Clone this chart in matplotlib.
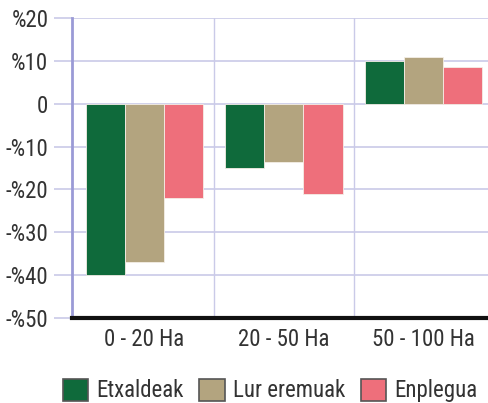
import numpy as np
import matplotlib.pyplot as plt
from matplotlib.patches import Patch
from matplotlib import font_manager

# datuak
categories = ['0 - 20 Ha', '20 - 50 Ha', '50 - 100 Ha']
series = ['Etxaldeak', 'Lur eremuak', 'Enplegua']
etxaldeak = [-40, -15, 10]
lur_eremuak = [-37, -13.5, 11]
enplegua = [-22, -21, 8.6]
yticks = [20, 10, 0, -10, -20, -30, -40, -50]
ytick_labels = ['%20', '%10', '0', '-%10', '-%20', '-%30', '-%40', '-%50']

colors = ['#0f6a3b', '#b3a47f', '#ee6f7b']

names = sorted({f.name for f in font_manager.fontManager.ttflist})
prefer = ['Liberation Sans Narrow', 'Roboto Condensed', 'Noto Sans Condensed',
          'Open Sans Condensed', 'DejaVu Sans Condensed']
fam = next((n for n in prefer if n in names), None)
if fam is None:
    fam = next((n for n in names if ('Condensed' in n or 'Narrow' in n) and 'Sans' in n), 'Liberation Sans')
plt.rcParams['font.family'] = [fam, 'DejaVu Sans']
fs = 16.5

fig = plt.figure(figsize=(4.89, 4.03), dpi=100)
ax = fig.add_axes([0.147, 0.211, 0.853, 0.744])

x = np.arange(len(categories))
w = 0.28
for i, (vals, c) in enumerate(zip([etxaldeak, lur_eremuak, enplegua], colors)):
    ax.bar(x + (i - 1) * w, vals, w, color=c, edgecolor='#f4eee6', linewidth=0.6, zorder=3)

ax.set_ylim(-50, 20)
ax.set_xlim(-0.52, 2.47)
ax.set_yticks(yticks)
ax.set_yticklabels(ytick_labels, fontsize=fs, color='#333333')
ax.set_xticks(x)
ax.set_xticklabels(categories, fontsize=fs, color='#333333')

grid_c = '#cacae8'
for v in yticks[:-1]:
    ax.axhline(v, color=grid_c, lw=1.2, zorder=1)
for v in [0.5, 1.5]:
    ax.axvline(v, color=grid_c, lw=1.0, zorder=1)

ax.tick_params(axis='y', length=13, width=1.2, color=grid_c, pad=4)
ax.tick_params(axis='x', length=0, pad=7)
for s in ['top', 'right']:
    ax.spines[s].set_visible(False)
ax.spines['left'].set_color('#9a9ad6')
ax.spines['left'].set_linewidth(2)
ax.spines['bottom'].set_color('#111111')
ax.spines['bottom'].set_linewidth(3)
ax.spines['bottom'].set_zorder(4)

handles = [Patch(facecolor=c, edgecolor='#555555', linewidth=1.2) for c in colors]
fig.legend(handles, series, loc='center', bbox_to_anchor=(0.552, 0.031), ncol=3,
           frameon=False, fontsize=16.5, handlelength=1.1, handleheight=1.1,
           handletextpad=0.35, columnspacing=0.7, labelcolor='#333333')

fig.savefig('out.png', dpi=100)
